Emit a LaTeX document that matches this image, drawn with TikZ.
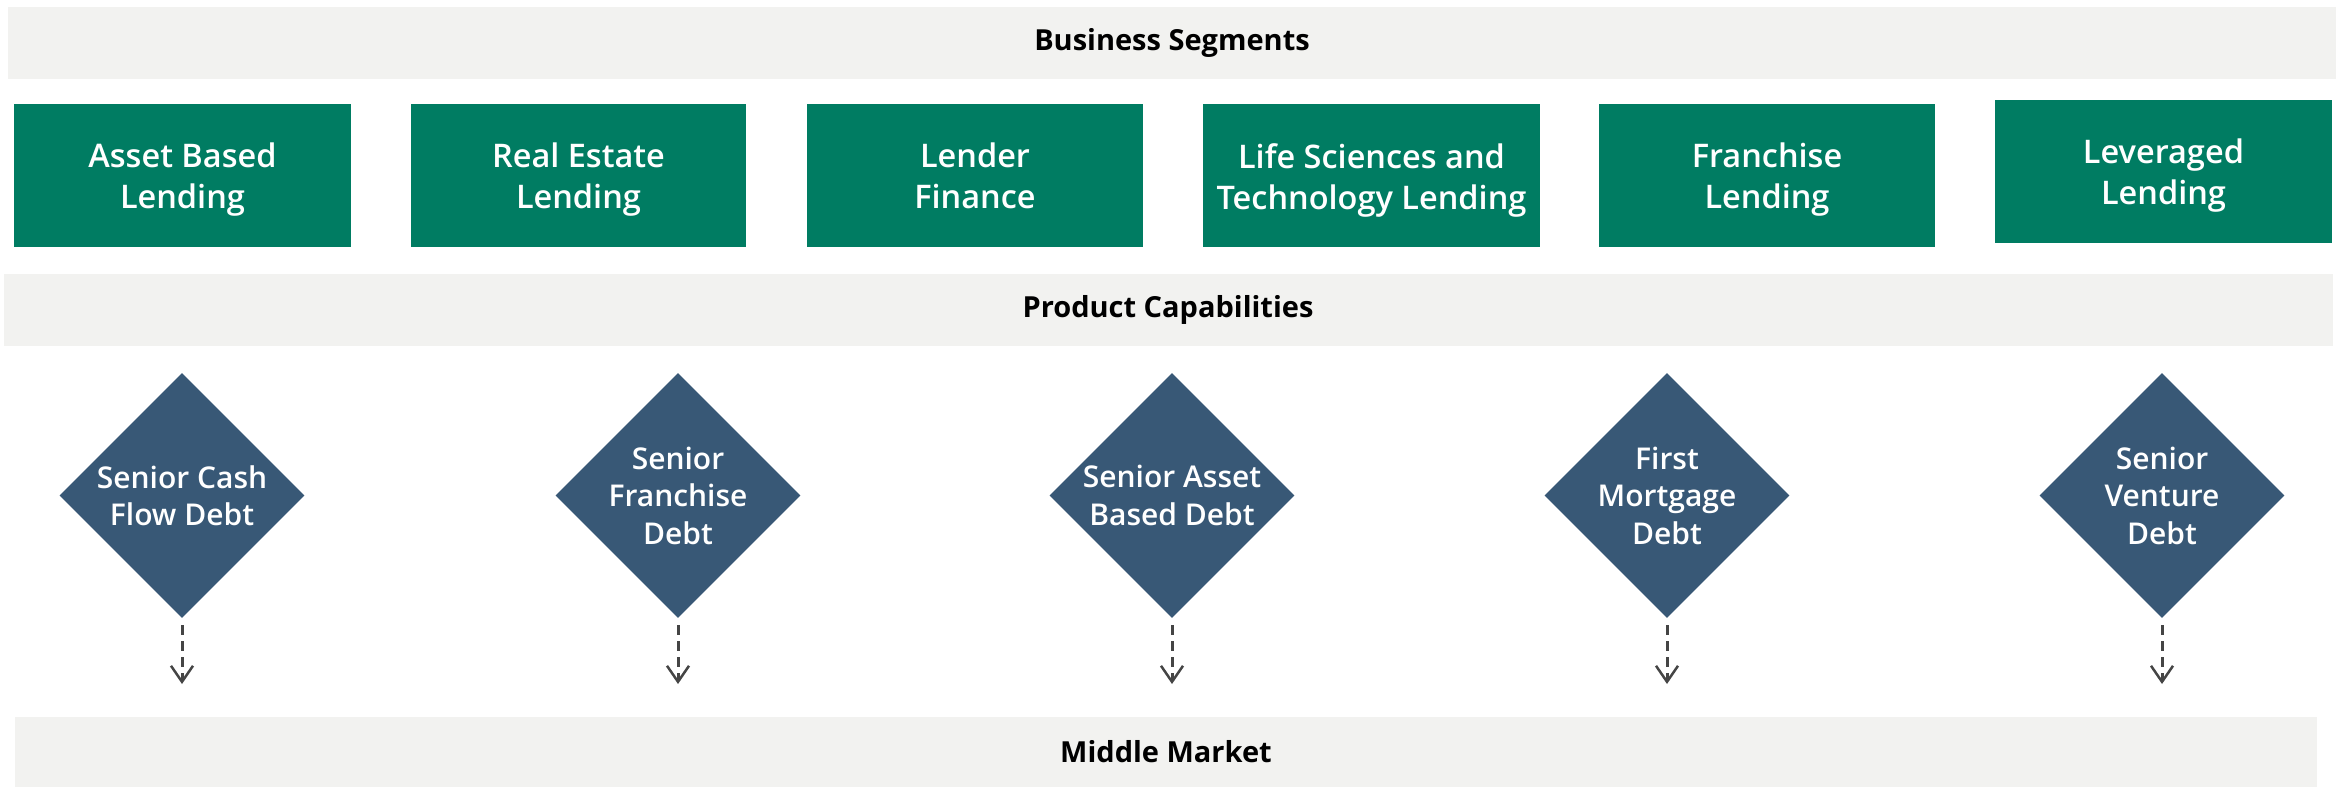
\documentclass[tikz,border=0pt]{standalone}
\usepackage{fontspec}
\setmainfont{Open Sans}
\newfontfamily\sbfont{Open Sans Semibold}
\usetikzlibrary{shapes.geometric,arrows.meta}
\definecolor{barfill}{HTML}{F2F2F0}
\definecolor{segfill}{HTML}{007C62}
\definecolor{capfill}{HTML}{385876}
\definecolor{arrowgray}{HTML}{454545}
\tikzset{
  bar/.style={fill=barfill, draw=none, inner sep=0pt},
  bartext/.style={font=\fontsize{29}{35}\selectfont\bfseries, text=black, inner sep=0pt},
  segbox/.style={fill=segfill, draw=none, inner sep=0pt},
  segtext/.style={font=\sbfont\fontsize{32.5}{41}\selectfont, text=white, align=center, inner sep=0pt},
  capdiam/.style={shape=diamond, fill=capfill, draw=none, aspect=1, inner sep=0pt, minimum width=245pt, minimum height=245pt},
  captext/.style={font=\sbfont\fontsize{30}{37.5}\selectfont, text=white, align=center, inner sep=0pt},
  flow/.style={draw=arrowgray, line width=3pt, dash pattern=on 10pt off 6pt, -{Straight Barb[length=16pt,width=22pt,line width=2.5pt]}, shorten <=7pt}
}
\begin{document}
\begin{tikzpicture}[x=1pt,y=-1pt]
\useasboundingbox (0,0) rectangle (2336,787);
% bars
\path[bar] (8,7) rectangle (2336,79);
\node[bartext] (t1) at (1172,43) {Business Segments};
\path[bar] (4,274) rectangle (2333,346);
\node[bartext] (t2) at (1168,310) {Product Capabilities};
\path[bar] (15,717) rectangle (2317,787);
\node[bartext] (t3) at (1166,752) {Middle Market};
% segment boxes
\path[segbox] (14,104) rectangle (351,247);
\node[segtext] (s1) at (182.5,180) {Asset Based\\Lending\vphantom{g}};
\path[segbox] (411,104) rectangle (746,247);
\node[segtext] (s2) at (578.5,180) {Real Estate\\Lending\vphantom{g}};
\path[segbox] (807,104) rectangle (1143,247);
\node[segtext] (s3) at (975,180) {Lender\\Finance\vphantom{g}};
\path[segbox] (1203,104) rectangle (1540,247);
\node[segtext] (s4) at (1371.5,180) {Life Sciences and\\Technology Lending\vphantom{g}};
\path[segbox] (1599,104) rectangle (1935,247);
\node[segtext] (s5) at (1767,180) {Franchise\\Lending\vphantom{g}};
\path[segbox] (1995,100) rectangle (2332,243);
\node[segtext] (s6) at (2163.5,176) {Leveraged\\Lending\vphantom{g}};
% diamonds
\foreach \i/\x/\txt in {1/182/{Senior Cash\\Flow Debt},2/678/{Senior\\Franchise\\Debt},3/1172/{Senior Asset\\Based Debt},4/1667/{First\\Mortgage\\Debt},5/2162/{Senior\\Venture\\Debt}}{
  \node[capdiam] (d\i) at (\x,495.5) {};
  \node[captext] (d\i t) at (d\i.center) {\txt};
  \coordinate (e\i) at (\x,684);
  \draw[flow] (d\i.south) -- (e\i);
}
\end{tikzpicture}
\end{document}
